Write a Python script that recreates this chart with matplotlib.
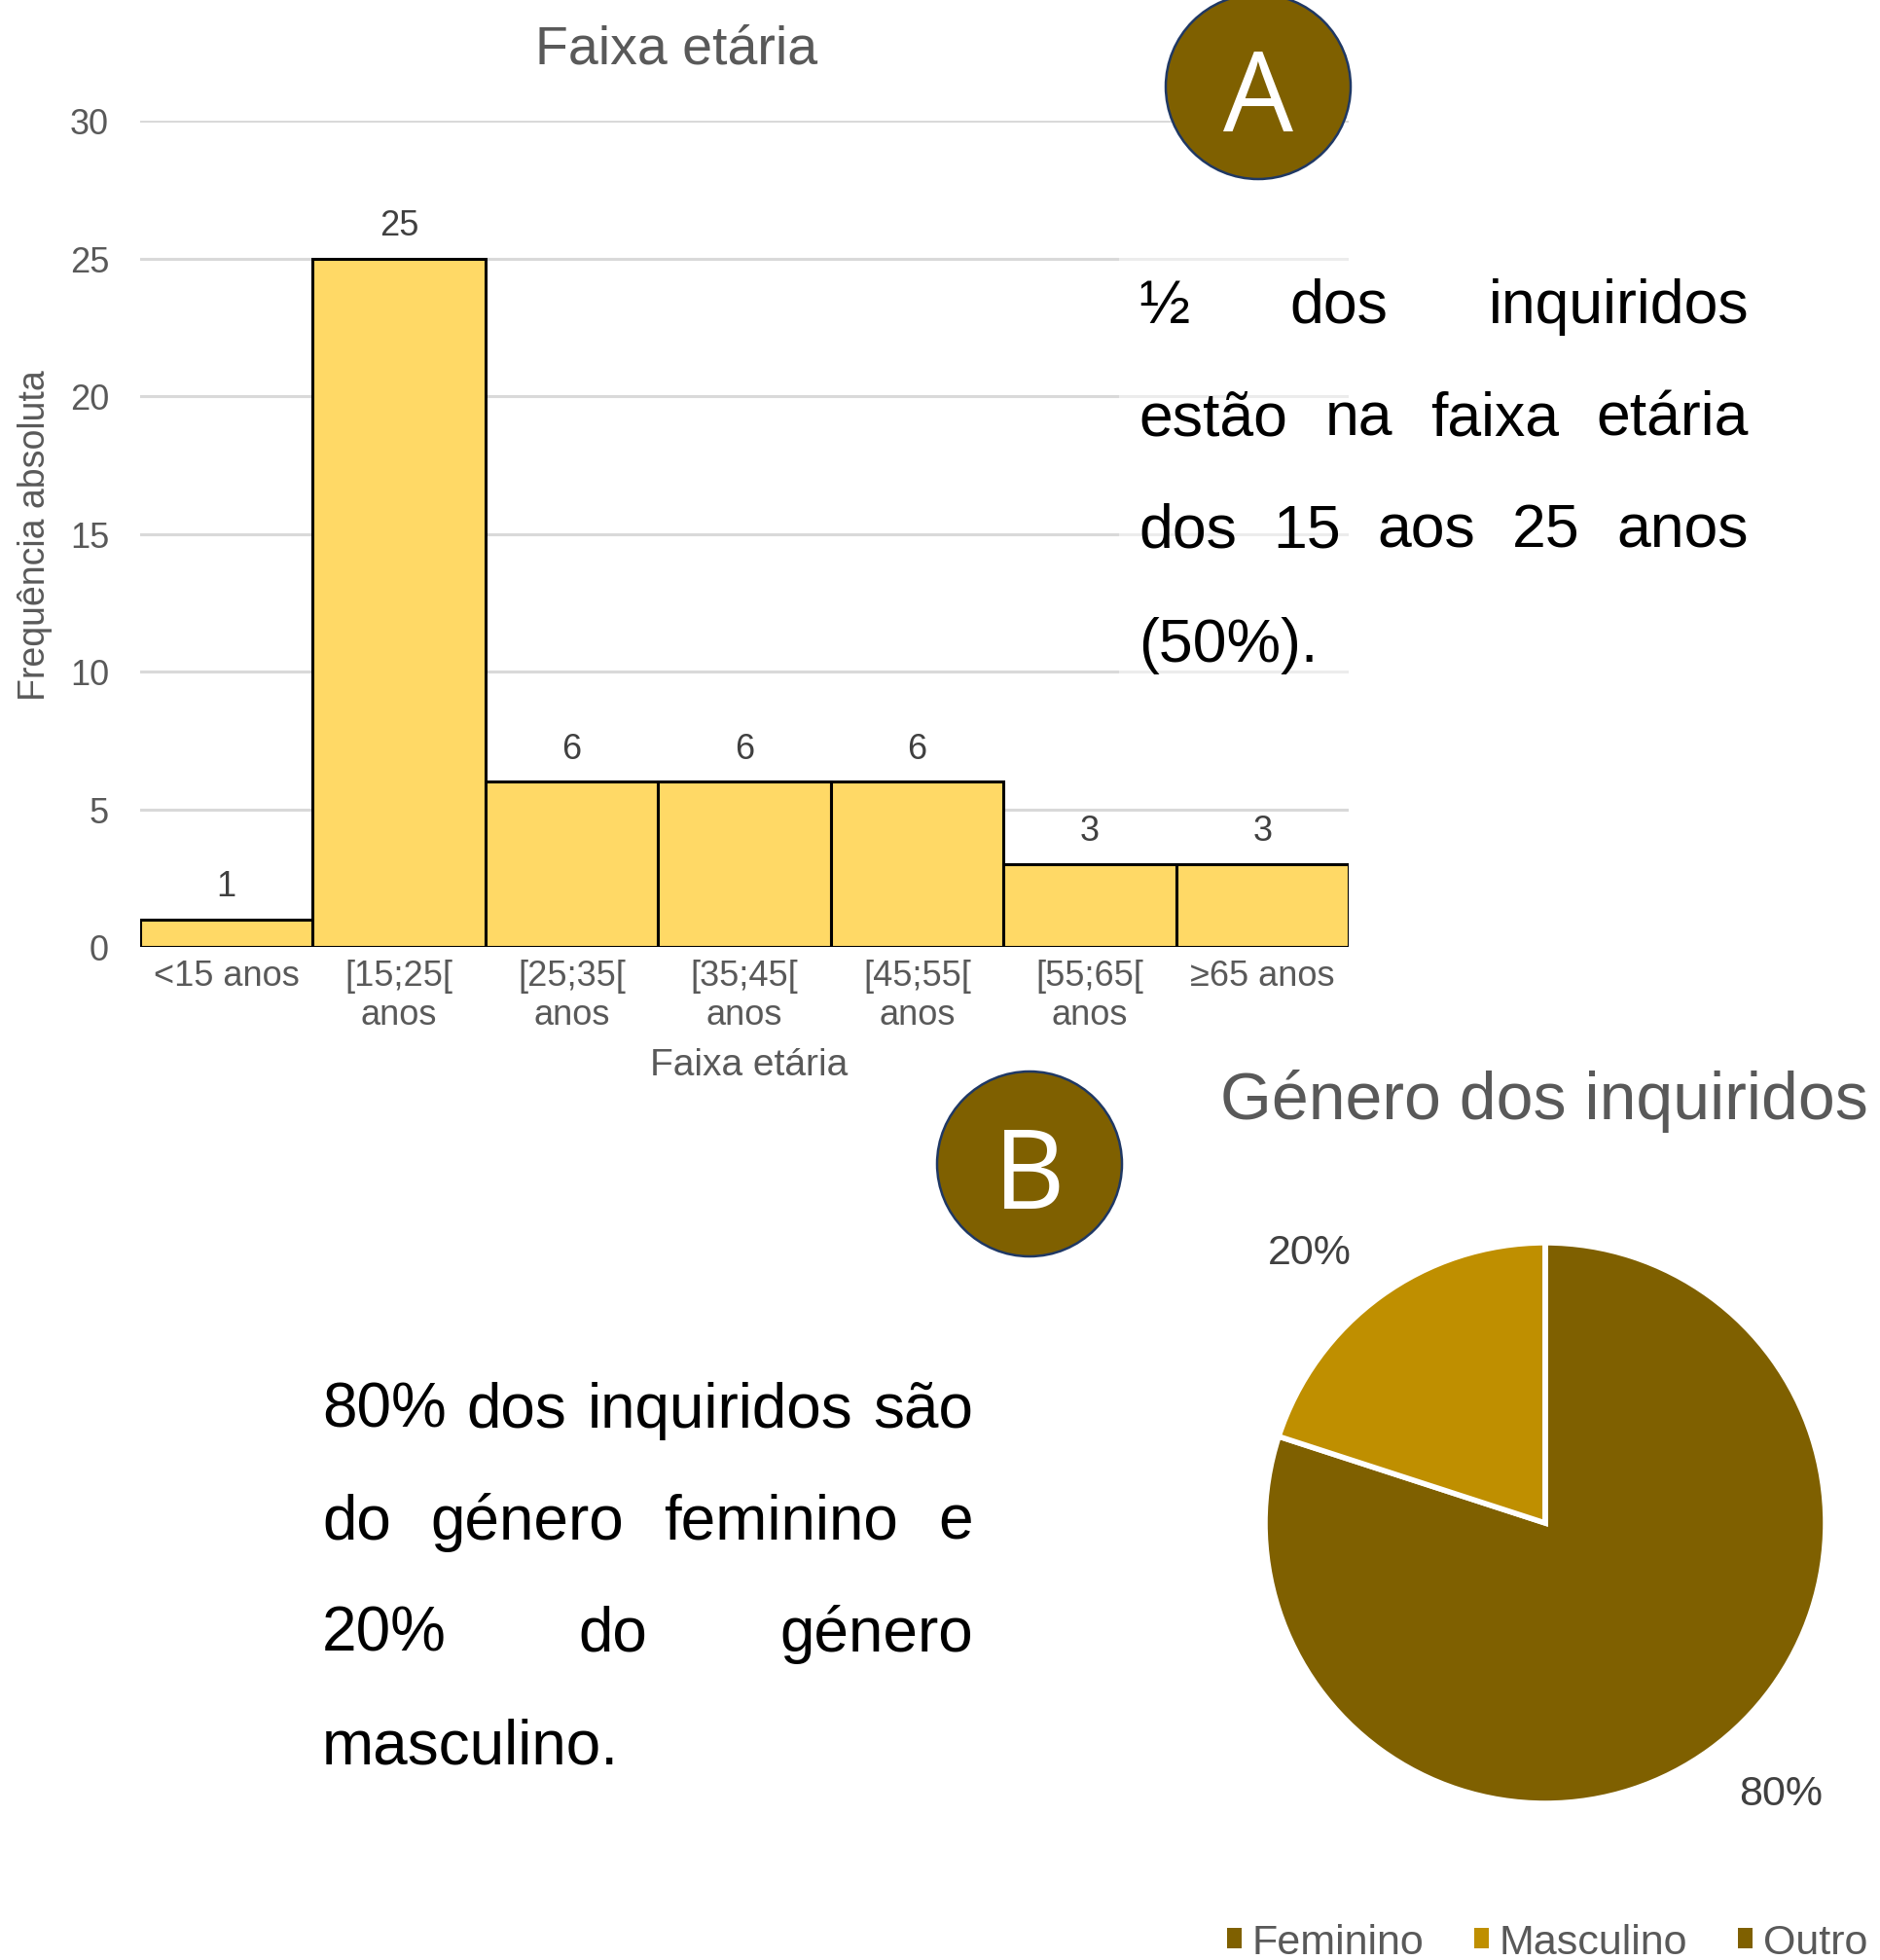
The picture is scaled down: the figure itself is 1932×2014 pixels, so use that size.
import numpy as np
import matplotlib
matplotlib.use('Agg')
import matplotlib.pyplot as plt
from matplotlib.patches import Circle, Rectangle, Patch

plt.rcParams['font.family'] = ['Liberation Sans', 'DejaVu Sans']

# chart A: age groups
age_groups = ['<15 anos', '[15;25[\nanos', '[25;35[\nanos', '[35;45[\nanos',
              '[45;55[\nanos', '[55;65[\nanos', '≥65 anos']
age_counts = [1, 25, 6, 6, 6, 3, 3]
y_ticks = [0, 5, 10, 15, 20, 25, 30]

# chart B: gender
genders = ['Feminino', 'Masculino', 'Outro']
gender_share = [80, 20, 0]
gender_colors = ['#7F6000', '#BF8F00', '#7F6000']

text_a = ['½ dos inquiridos', 'estão na faixa etária', 'dos 15 aos 25 anos', '(50%).']
text_b = ['80% dos inquiridos são', 'do género feminino e', '20% do género', 'masculino.']

W, H = 1932, 2015
GREY = '#595959'


def px_axes(fig, x0, y0, x1, y1):
    return fig.add_axes([x0 / W, 1 - y1 / H, (x1 - x0) / W, (y1 - y0) / H])


def justify(ax, lines, x0, x1, baselines, size):
    r = ax.figure.canvas.get_renderer()
    for i, (line, yb) in enumerate(zip(lines, baselines)):
        words = line.split()
        if i == len(lines) - 1 or len(words) == 1:
            ax.text(x0, yb, line, fontsize=size, va='baseline', ha='left', zorder=5)
            continue
        arts = [ax.text(0, yb, w, fontsize=size, va='baseline', ha='left', zorder=5)
                for w in words]
        widths = [a.get_window_extent(r).width for a in arts]
        gap = (x1 - x0 - sum(widths)) / (len(words) - 1)
        x = x0
        for a, w in zip(arts, widths):
            a.set_x(x)
            x += w + gap


def main():
    fig = plt.figure(figsize=(W / 100, H / 100), dpi=100)

    # bar chart
    ax = px_axes(fig, 144, 125, 1386, 974)
    bars = ax.bar(range(len(age_counts)), age_counts, width=1.0, color='#FFD966',
                  edgecolor='black', linewidth=2.2, zorder=2)
    ax.bar_label(bars, padding=12, fontsize=26, color='#404040')
    ax.set_xlim(-0.5, len(age_counts) - 0.5)
    ax.set_ylim(0, 30)
    ax.set_yticks(y_ticks)
    ax.set_xticks(range(len(age_groups)))
    ax.set_xticklabels(age_groups, linespacing=1.15)
    ax.tick_params(axis='x', length=0, pad=9, labelsize=26, labelcolor=GREY)
    ax.tick_params(axis='y', length=0, pad=23, labelsize=26, labelcolor=GREY)
    ax.yaxis.grid(True, color='#D9D9D9', linewidth=2.2)
    ax.set_axisbelow(True)
    for s in ax.spines.values():
        s.set_visible(False)

    # pie chart
    pc = (1588, 1566)
    pr = 288
    axp = px_axes(fig, pc[0] - pr, pc[1] - pr, pc[0] + pr, pc[1] + pr)
    wedges, _, pcts = axp.pie(gender_share, colors=gender_colors, startangle=90,
                              counterclock=False,
                              wedgeprops=dict(edgecolor='white', linewidth=4),
                              autopct=lambda p: f'{p:.0f}%' if p > 0 else '',
                              textprops=dict(fontsize=31, color='#404040'))
    # excel-style label placement: a bit outside, slightly rotated
    for w, t in zip(wedges, pcts):
        ang = np.deg2rad((w.theta1 + w.theta2) / 2 + 5)
        t.set_position((1.28 * np.cos(ang), 1.28 * np.sin(ang)))
    axp.set_xlim(-1, 1)
    axp.set_ylim(-1, 1)

    fig.legend(handles=[Patch(facecolor=c, label=g) for g, c in zip(genders, gender_colors)],
               loc='center', bbox_to_anchor=(1590 / W, 1 - 1997 / H), ncol=3,
               frameon=False, fontsize=31, handlelength=0.35, handleheight=0.35,
               handletextpad=0.25, columnspacing=1.2, labelcolor=GREY)

    # overlay for free text and badges
    ov = fig.add_axes([0, 0, 1, 1])
    ov.set_xlim(0, W)
    ov.set_ylim(H, 0)
    ov.axis('off')

    ov.add_patch(Rectangle((1150, 150), 250, 550, facecolor='white', alpha=0.5,
                           edgecolor='none', zorder=1))

    ov.text(695, 51, 'Faixa etária', fontsize=40, color=GREY, ha='center', va='center')
    ov.text(770, 1095, 'Faixa etária', fontsize=28, color=GREY, ha='center', va='center')
    ov.text(36, 550, 'Frequência absoluta', fontsize=27, color=GREY, ha='center',
            va='center', rotation=90)
    ov.text(1587, 1132, 'Género dos inquiridos', fontsize=49, color=GREY,
            ha='center', va='center')

    for (cx, cy), letter, base in [((1293, 90), 'A', 135), ((1058, 1197), 'B', 1242)]:
        ov.add_patch(Circle((cx, cy), 95, facecolor='#7F6000', edgecolor='#1F3864',
                            linewidth=1.8, zorder=3))
        ov.text(cx, base, letter, fontsize=82, color='white', ha='center',
                va='baseline', family=['Open Sans', 'DejaVu Sans'], zorder=4)

    justify(ov, text_a, 1170, 1797, [332, 448, 563, 680], 45)
    justify(ov, text_b, 331, 1000, [1467, 1582, 1697, 1813], 46)

    fig.savefig('out.png', dpi=100)


if __name__ == '__main__':
    main()
